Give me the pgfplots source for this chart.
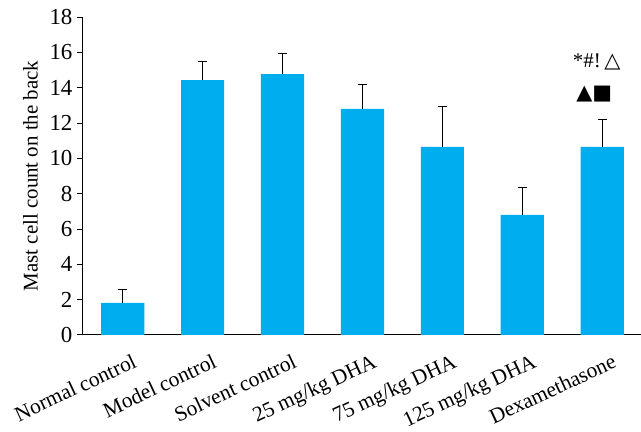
\documentclass[border=0pt]{standalone}
\usepackage{pgfplots}
\pgfplotsset{compat=1.18}
\usepackage{pgfplotstable}
\usepackage{fontspec}
\setmainfont{Liberation Serif}
\newfontfamily\symfont{DejaVu Sans}
\definecolor{barblue}{RGB}{0,174,239}
\pgfplotstableread{
x y err
0 1.81 0.74
1 14.43 1.07
2 14.77 1.19
3 12.79 1.41
4 10.64 2.32
5 6.79 1.53
6 10.64 1.58
}\mydata
\begin{document}
\begin{tikzpicture}
\begin{axis}[
  scale only axis,
  width=559bp, height=318bp,
  xmin=-0.51, xmax=6.48,
  ymin=0, ymax=18,
  ytick={0,2,...,18},
  axis x line*=bottom,
  axis y line*=left,
  axis line style={line width=0.8pt, -},
  xtick=data,
  xticklabels={Normal control, Model control, Solvent control, 25 mg/kg DHA, 75 mg/kg DHA, 125 mg/kg DHA, Dexamethasone},
  xtick style={draw=none},
  ytick style={line width=0.6pt, black},
  tick align=outside,
  major tick length=5bp,
  xticklabel style={xshift=9bp, yshift=-13bp, rotate=25, anchor=north east, inner sep=0pt, font=\fontsize{21.5}{24}\selectfont},
  yticklabel style={font=\fontsize{23}{24}\selectfont, xshift=-1pt},
  /pgf/number format/assume math mode=true,
  ylabel={Mast cell count on the back},
  ylabel style={font=\fontsize{21}{24}\selectfont, yshift=5bp},
  clip=false,
]
\addplot[ybar, bar width=0.54, fill=barblue, draw=none,
  error bars/.cd, y dir=plus, y explicit,
  error bar style={black, line width=0.9pt},
  error mark options={black, line width=0.9pt, mark size=4.5bp, rotate=90}]
  table[x=x, y=y, y error=err]{\mydata};
\node[font=\fontsize{21}{24}\selectfont] at (axis cs:5.93,15.45) {*\#!\,{\symfont △}};
\node[font=\fontsize{21}{24}\selectfont] at (axis cs:5.9,13.65) {{\symfont ▲■}};
\end{axis}
\path (current axis.south west) ++(-82bp,0pt) coordinate (padleft);
\path (current axis.north west) ++(0pt,17bp) coordinate (padtop);
\end{tikzpicture}
\end{document}
